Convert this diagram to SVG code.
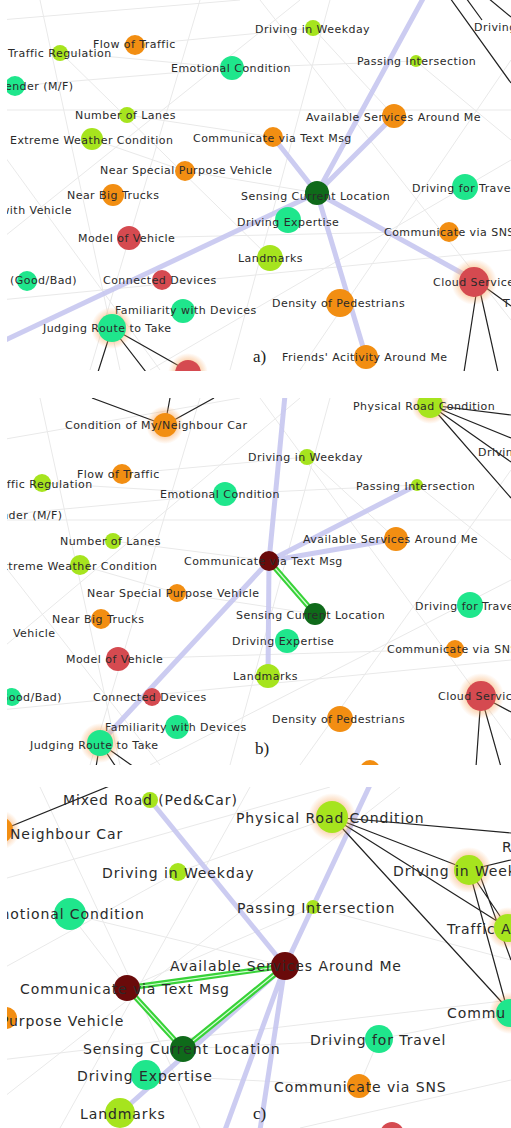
<svg xmlns="http://www.w3.org/2000/svg" width="511" height="1128" viewBox="0 0 511 1128">
<style>
.t{font-family:"DejaVu Sans","Liberation Sans",sans-serif;font-size:11px;letter-spacing:0.45px;fill:#2a2a2a}
.tc{font-size:14px;letter-spacing:0.9px}
.lbl{font-family:"Liberation Serif",serif;font-size:17px;fill:#222}
.yg{fill:#a6e41e}
.gr{fill:#1fe68c}
.or{fill:#f28e12}
.rd{fill:#d54a50}
.dg{fill:#0f6a1a}
.dr{fill:#6a0a0a}
.lav{stroke:#c6c6f0;stroke-width:5;stroke-linecap:round;fill:none;opacity:.9}
.blk{stroke:#222;stroke-width:1.2;fill:none}
.fnt{stroke:#e9e9e9;stroke-width:1;fill:none}
.g1{stroke:#38d238;stroke-width:5.5;fill:none;stroke-linecap:round}
.g2{stroke:#d6ffd6;stroke-width:1.2;fill:none}
</style>
<defs>
<radialGradient id="halo"><stop offset="0.55" stop-color="#f7a45a" stop-opacity="0.55"/><stop offset="1" stop-color="#f7a45a" stop-opacity="0"/></radialGradient>
<clipPath id="cA"><rect x="7" y="0" width="504" height="371"/></clipPath>
<clipPath id="cB"><rect x="7" y="398" width="504" height="367"/></clipPath>
<clipPath id="cC"><rect x="7" y="787" width="504" height="341"/></clipPath>
</defs>
<rect width="511" height="1128" fill="#fff"/>

<g id="connectors">
<g clip-path="url(#cA)">
<path class="fnt" d="M0 20L240 0M60 52L232 68M135 45L313 28M15 86L232 68M127 115L273 137M92 139L185 171M232 68L416 61M313 28L394 116M416 61L511 140M185 171L317 193M0 150L160 370M40 0L120 370M200 0L90 370M0 240L300 0M0 300L511 250M150 370L511 160M260 0L511 320M330 0L230 370M511 60L300 370M0 110L511 110M60 52L270 258M129 238L450 231"/>
<path class="lav" d="M317 193L425 -5M317 193L273 137M317 193L394 116M317 193L478 282M317 193L366 357M317 193L-5 345"/>
<path class="blk" d="M112 328L98 372M112 328L146 372M112 328L188 371M478 282L464 372M478 282L498 372M478 282L511 306M450 -2L511 83M466 -2L482 20M488 -2L511 17"/>
</g>
<g clip-path="url(#cB)">
<path class="fnt" d="M0 440L240 398M42 483L225 494M122 474L307 457M0 515L225 494M113 541L269 561M80 565L177 593M225 494L417 485M307 457L396 539M417 485L511 560M177 593L315 614M0 560L160 765M40 398L120 765M200 398L90 765M0 650L300 398M0 710L511 660M150 765L511 580M260 398L511 740M330 398L230 765M511 470L300 765M0 520L511 520M118 659L455 649"/>
<path class="lav" d="M269 561L285 395M269 561L417 485M269 561L396 539M269 561L102 741M269 561L268 676"/>
<path class="g1" d="M269 561L315 614"/><path class="g2" d="M269 561L315 614"/>
<path class="blk" d="M165 425L92 398M165 425L170 398M165 425L214 398M100 743L96 767M100 743L116 767M100 743L134 767M481 696L476 767M481 696L501 767M481 696L511 712M430 405L511 415M430 405L511 438M430 405L511 462M430 405L511 498"/>
</g>
<g clip-path="url(#cC)">
<path class="fnt" d="M0 880L330 787M70 914L285 966M178 872L332 817M0 970L178 872M127 988L313 907M70 914L127 988M313 907L511 960M379 1039L511 1013M0 1060L511 1000M40 787L200 1128M250 787L60 1128M0 1100L400 787M379 1039L359 1086M183 1049L379 1039M511 1080L300 1128M146 1075L359 1086"/>
<path class="lav" d="M150 800L285 966M370 785L285 966M285 966L120 1113M285 966L225 1130M285 966L260 1130"/>
<path class="g1" d="M127 988L285 966M127 988L183 1049M183 1049L285 966"/>
<path class="g2" d="M127 988L285 966M127 988L183 1049M183 1049L285 966"/>
<path class="blk" d="M2 830L112 785M332 817L511 833M332 817L469 870M332 817L508 928M332 817L508 1009M469 870L511 860M469 870L508 928M469 870L506 1005M478 870L511 960"/>
</g>
</g>

<g clip-path="url(#cA)">
<g id="a-traffic-regulation"><circle class="yg" cx="60" cy="53" r="8"/><text class="t" x="8" y="57">Traffic Regulation</text></g>
<g id="a-flow-of-traffic"><circle class="or" cx="135" cy="45" r="10"/><text class="t" x="93" y="48">Flow of Traffic</text></g>
<g id="a-emotional-condition"><circle class="gr" cx="232" cy="68" r="12"/><text class="t" x="171" y="72">Emotional Condition</text></g>
<g id="a-gender"><circle class="gr" cx="15" cy="86" r="10"/><text class="t" x="-4" y="90">Gender (M/F)</text></g>
<g id="a-number-of-lanes"><circle class="yg" cx="127" cy="115" r="8"/><text class="t" x="75" y="119">Number of Lanes</text></g>
<g id="a-extreme-weather"><circle class="yg" cx="92" cy="139" r="11"/><text class="t" x="10" y="144">Extreme Weather Condition</text></g>
<g id="a-text-msg"><circle class="or" cx="273" cy="137" r="10"/><text class="t" x="193" y="142">Communicate via Text Msg</text></g>
<g id="a-special-vehicle"><circle class="or" cx="185" cy="171" r="10"/><text class="t" x="100" y="174">Near Special Purpose Vehicle</text></g>
<g id="a-big-trucks"><circle class="or" cx="113" cy="195" r="11"/><text class="t" x="67" y="199">Near Big Trucks</text></g>
<g id="a-with-vehicle"><circle class="gr" cx="-3" cy="210" r="10"/><text class="t" x="72" y="214" text-anchor="end">with Vehicle</text></g>
<g id="a-model-of-vehicle"><circle class="rd" cx="129" cy="238" r="12"/><text class="t" x="78" y="242">Model of Vehicle</text></g>
<g id="a-good-bad"><circle class="gr" cx="27" cy="281" r="10"/><text class="t" x="10" y="284">(Good/Bad)</text></g>
<g id="a-connected-devices"><circle class="rd" cx="162" cy="280" r="10"/><text class="t" x="103" y="284">Connected Devices</text></g>
<g id="a-familiarity"><circle class="gr" cx="183" cy="311" r="12"/><text class="t" x="115" y="314">Familiarity with Devices</text></g>
<g id="a-judging-route"><circle fill="url(#halo)" cx="112" cy="328" r="21"/><circle class="gr" cx="112" cy="328" r="14"/><text class="t" x="43" y="332">Judging Route to Take</text></g>
<g id="a-bottom-red"><circle fill="url(#halo)" cx="188" cy="373" r="20"/><circle class="rd" cx="188" cy="373" r="13"/></g>
<g id="a-sensing"><circle class="dg" cx="317" cy="193" r="12"/><text class="t" x="241" y="200">Sensing Current Location</text></g>
<g id="a-driving-expertise"><circle class="gr" cx="288" cy="220" r="13"/><text class="t" x="237" y="226">Driving Expertise</text></g>
<g id="a-landmarks"><circle class="yg" cx="270" cy="258" r="13"/><text class="t" x="238" y="262">Landmarks</text></g>
<g id="a-density"><circle class="or" cx="340" cy="303" r="14"/><text class="t" x="272" y="307">Density of Pedestrians</text></g>
<g id="a-friends"><circle class="or" cx="366" cy="357" r="12"/><text class="t" x="282" y="361">Friends' Acitivity Around Me</text></g>
<g id="a-cloud"><circle fill="url(#halo)" cx="474" cy="282" r="23"/><circle class="rd" cx="474" cy="282" r="15"/><text class="t" x="433" y="286">Cloud Service</text></g>
<g id="a-t"><text class="t" x="503" y="307">T</text></g>
<g id="a-sns"><circle class="or" cx="449" cy="232" r="10"/><text class="t" x="384" y="236">Communicate via SNS</text></g>
<g id="a-travel"><circle class="gr" cx="465" cy="187" r="13"/><text class="t" x="412" y="192">Driving for Travel</text></g>
<g id="a-available"><circle class="or" cx="394" cy="116" r="12"/><text class="t" x="306" y="121">Available Services Around Me</text></g>
<g id="a-passing"><circle class="yg" cx="416" cy="61" r="6"/><text class="t" x="357" y="65">Passing Intersection</text></g>
<g id="a-weekday"><circle class="yg" cx="313" cy="28" r="8"/><text class="t" x="255" y="33">Driving in Weekday</text></g>
<g id="a-driving"><text class="t" x="474" y="31">Driving</text></g>
<text class="lbl" x="253" y="362">a)</text>
</g>

<g clip-path="url(#cB)">
<g id="b-condition"><circle fill="url(#halo)" cx="165" cy="425" r="19"/><circle class="or" cx="165" cy="425" r="12"/><text class="t" x="65" y="429">Condition of My/Neighbour Car</text></g>
<g id="b-flow-of-traffic"><circle class="or" cx="122" cy="474" r="10"/><text class="t" x="77" y="478">Flow of Traffic</text></g>
<g id="b-traffic-regulation"><circle class="yg" cx="42" cy="483" r="9"/><text class="t" x="-11" y="488">Traffic Regulation</text></g>
<g id="b-emotional-condition"><circle class="gr" cx="225" cy="494" r="12"/><text class="t" x="160" y="498">Emotional Condition</text></g>
<g id="b-gender"><text class="t" x="-15" y="519">Gender (M/F)</text></g>
<g id="b-number-of-lanes"><circle class="yg" cx="113" cy="541" r="8"/><text class="t" x="60" y="545">Number of Lanes</text></g>
<g id="b-extreme-weather"><circle class="yg" cx="80" cy="565" r="10"/><text class="t" x="-6" y="570">Extreme Weather Condition</text></g>
<g id="b-text-msg"><circle class="dr" cx="269" cy="561" r="10"/><text class="t" x="184" y="565">Communicate via Text Msg</text></g>
<g id="b-special-vehicle"><circle class="or" cx="177" cy="593" r="9"/><text class="t" x="87" y="597">Near Special Purpose Vehicle</text></g>
<g id="b-big-trucks"><circle class="or" cx="101" cy="619" r="10"/><text class="t" x="52" y="623">Near Big Trucks</text></g>
<g id="b-vehicle"><text class="t" x="13" y="637">Vehicle</text></g>
<g id="b-model-of-vehicle"><circle class="rd" cx="118" cy="659" r="12"/><text class="t" x="66" y="663">Model of Vehicle</text></g>
<g id="b-good-bad"><circle class="gr" cx="12" cy="697" r="9"/><text class="t" x="-5" y="701">(Good/Bad)</text></g>
<g id="b-connected-devices"><circle class="rd" cx="152" cy="697" r="9"/><text class="t" x="93" y="701">Connected Devices</text></g>
<g id="b-familiarity"><circle class="gr" cx="177" cy="727" r="12"/><text class="t" x="105" y="731">Familiarity with Devices</text></g>
<g id="b-judging-route"><circle fill="url(#halo)" cx="100" cy="743" r="20"/><circle class="gr" cx="100" cy="743" r="13"/><text class="t" x="30" y="749">Judging Route to Take</text></g>
<g id="b-sensing"><circle class="dg" cx="315" cy="614" r="11"/><text class="t" x="236" y="619">Sensing Current Location</text></g>
<g id="b-driving-expertise"><circle class="gr" cx="287" cy="641" r="12"/><text class="t" x="232" y="645">Driving Expertise</text></g>
<g id="b-landmarks"><circle class="yg" cx="268" cy="676" r="12"/><text class="t" x="233" y="680">Landmarks</text></g>
<g id="b-density"><circle class="or" cx="340" cy="719" r="13"/><text class="t" x="272" y="723">Density of Pedestrians</text></g>
<g id="b-bottom-orange"><circle class="or" cx="370" cy="770" r="10"/></g>
<g id="b-cloud"><circle fill="url(#halo)" cx="481" cy="696" r="23"/><circle class="rd" cx="481" cy="696" r="15"/><text class="t" x="438" y="700">Cloud Service</text></g>
<g id="b-sns"><circle class="or" cx="455" cy="649" r="9"/><text class="t" x="387" y="653">Communicate via SNS</text></g>
<g id="b-travel"><circle class="gr" cx="470" cy="605" r="13"/><text class="t" x="415" y="610">Driving for Travel</text></g>
<g id="b-available"><circle class="or" cx="396" cy="539" r="12"/><text class="t" x="303" y="543">Available Services Around Me</text></g>
<g id="b-passing"><circle class="yg" cx="417" cy="485" r="6"/><text class="t" x="356" y="490">Passing Intersection</text></g>
<g id="b-weekday"><circle class="yg" cx="307" cy="457" r="8"/><text class="t" x="248" y="461">Driving in Weekday</text></g>
<g id="b-physical"><circle fill="url(#halo)" cx="430" cy="405" r="19"/><circle class="yg" cx="430" cy="405" r="13"/><text class="t" x="353" y="410">Physical Road Condition</text></g>
<g id="b-driving"><text class="t" x="478" y="456">Driving</text></g>
<text class="lbl" x="255" y="754">b)</text>
</g>

<g clip-path="url(#cC)">
<g id="c-mixed-road"><circle class="yg" cx="150" cy="800" r="8"/><text class="t tc" x="63" y="805">Mixed Road (Ped&amp;Car)</text></g>
<g id="c-neighbour-car"><circle fill="url(#halo)" cx="0" cy="830" r="20"/><circle class="or" cx="0" cy="830" r="13"/><text class="t tc" x="10" y="839">Neighbour Car</text></g>
<g id="c-weekday"><circle class="yg" cx="178" cy="872" r="9"/><text class="t tc" x="102" y="878">Driving in Weekday</text></g>
<g id="c-emotional-condition"><circle class="gr" cx="70" cy="914" r="16"/><text class="t tc" x="-14" y="919">Emotional Condition</text></g>
<g id="c-physical"><circle fill="url(#halo)" cx="332" cy="817" r="24"/><circle class="yg" cx="332" cy="817" r="16"/><text class="t tc" x="236" y="823">Physical Road Condition</text></g>
<g id="c-weekday2"><circle fill="url(#halo)" cx="469" cy="870" r="23"/><circle class="yg" cx="469" cy="870" r="15"/><text class="t tc" x="393" y="876">Driving in Weekday</text></g>
<g id="c-r"><text class="t tc" x="502" y="852">R</text></g>
<g id="c-traffic"><circle fill="url(#halo)" cx="508" cy="928" r="21"/><circle class="yg" cx="508" cy="928" r="14"/><text class="t tc" x="447" y="934">Traffic A</text></g>
<g id="c-passing"><circle class="yg" cx="313" cy="907" r="7"/><text class="t tc" x="237" y="913">Passing Intersection</text></g>
<g id="c-available"><circle class="dr" cx="285" cy="966" r="14"/><text class="t tc" x="170" y="971">Available Services Around Me</text></g>
<g id="c-text-msg"><circle class="dr" cx="127" cy="988" r="13"/><text class="t tc" x="20" y="994">Communicate via Text Msg</text></g>
<g id="c-special-vehicle"><circle class="or" cx="6" cy="1018" r="11"/><text class="t tc" x="0" y="1026">Purpose Vehicle</text></g>
<g id="c-sensing"><circle class="dg" cx="183" cy="1049" r="13"/><text class="t tc" x="83" y="1054">Sensing Current Location</text></g>
<g id="c-driving-expertise"><circle class="gr" cx="146" cy="1075" r="15"/><text class="t tc" x="77" y="1081">Driving Expertise</text></g>
<g id="c-landmarks"><circle class="yg" cx="120" cy="1113" r="15"/><text class="t tc" x="80" y="1119">Landmarks</text></g>
<g id="c-travel"><circle class="gr" cx="379" cy="1039" r="14"/><text class="t tc" x="310" y="1045">Driving for Travel</text></g>
<g id="c-sns"><circle class="or" cx="359" cy="1086" r="12"/><text class="t tc" x="274" y="1092">Communicate via SNS</text></g>
<g id="c-commu"><circle fill="url(#halo)" cx="510" cy="1013" r="21"/><circle class="gr" cx="510" cy="1013" r="14"/><text class="t tc" x="447" y="1018">Commu</text></g>
<g id="c-bottom-red"><circle class="rd" cx="392" cy="1134" r="12"/></g>
<text class="lbl" x="253" y="1119">c)</text>
</g>
</svg>
